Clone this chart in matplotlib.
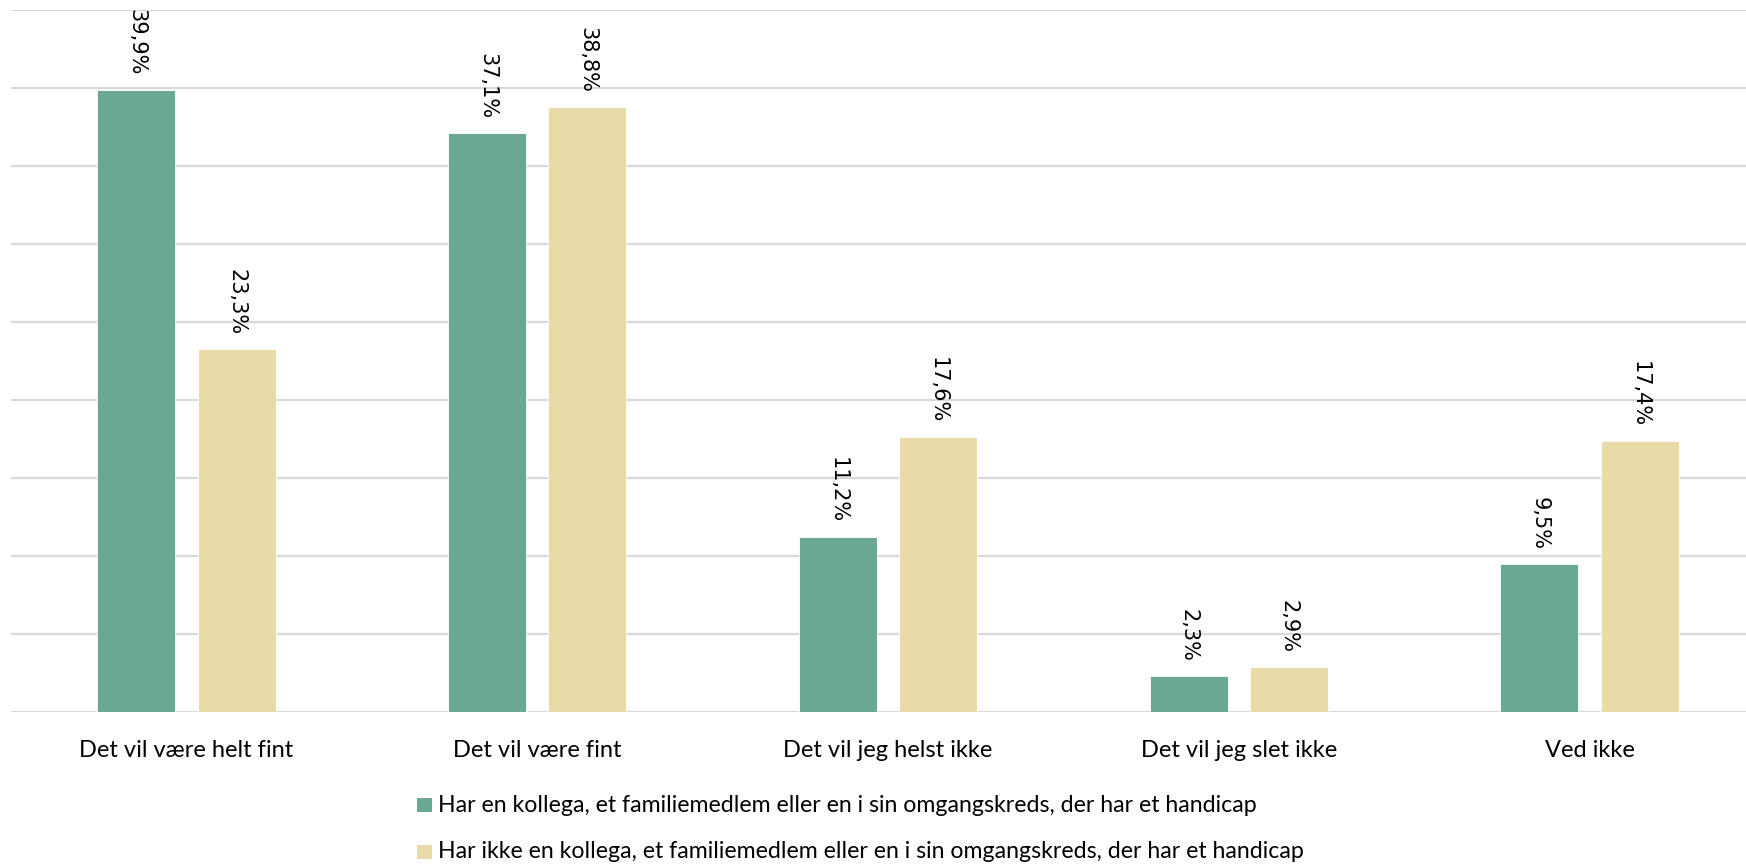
import matplotlib
matplotlib.use("Agg")
import matplotlib.pyplot as plt
import numpy as np
from matplotlib.patches import Rectangle

categories = ["Det vil være helt fint", "Det vil være fint", "Det vil jeg helst ikke",
              "Det vil jeg slet ikke", "Ved ikke"]
series_names = [
    "Har en kollega, et familiemedlem eller en i sin omgangskreds, der har et handicap",
    "Har ikke en kollega, et familiemedlem eller en i sin omgangskreds, der har et handicap",
]
har_values = [39.9, 37.1, 11.2, 2.3, 9.5]
har_ikke_values = [23.3, 38.8, 17.6, 2.9, 17.4]

green = "#6AA893"
tan = "#E9DBA8"
grid_col = "#D9D9D9"
label_font = "Lato"

W, H = 1746, 865
fig = plt.figure(figsize=(W / 100, H / 100), dpi=100)
# plot area runs a little past the right edge of the canvas
ax = fig.add_axes([11 / W, 1 - 712 / H, 1754 / W, 702 / H])

x = np.arange(len(categories))
width = 0.222
offset = 0.143
series = [(har_values, -offset, green), (har_ikke_values, offset, tan)]
for vals, off, col in series:
    bars = ax.bar(x + off, vals, width, color=col, edgecolor="white", linewidth=0.6, zorder=3)
    for b, v in zip(bars, vals):
        ax.annotate(f"{v:.1f}%".replace(".", ","),
                    (b.get_x() + b.get_width() / 2, v),
                    xytext=(0, 10), textcoords="offset points",
                    rotation=-90, ha="center", va="bottom",
                    fontsize=15, family="DejaVu Sans", color="#000000",
                    annotation_clip=False, clip_on=False)

ax.set_xlim(-0.5, len(categories) - 0.5)
ax.set_ylim(0, 45)
ax.set_yticks(np.arange(0, 46, 5))
ax.yaxis.grid(True, color=grid_col, linewidth=1.6, zorder=0)
ax.set_axisbelow(True)
ax.tick_params(axis="y", left=False, labelleft=False, length=0)
ax.tick_params(axis="x", bottom=False, length=0, pad=28)
ax.set_xticks(x)
ax.set_xticklabels(categories, fontsize=17, family=label_font, va="center")
for s in ax.spines.values():
    s.set_visible(False)

# legend rows: colour square followed by the series name
row_y = [805, 852]
for name, col, yy in zip(series_names, [green, tan], row_y):
    fig.patches.append(Rectangle((417 / W, 1 - (yy + 7) / H), 15 / W, 14 / H,
                                 transform=fig.transFigure, facecolor=col,
                                 edgecolor="none"))
    fig.text(438 / W, 1 - yy / H, name, ha="left", va="center",
             fontsize=16.7, family=label_font, color="#000000")

fig.savefig("out.png", dpi=100, facecolor="white")
